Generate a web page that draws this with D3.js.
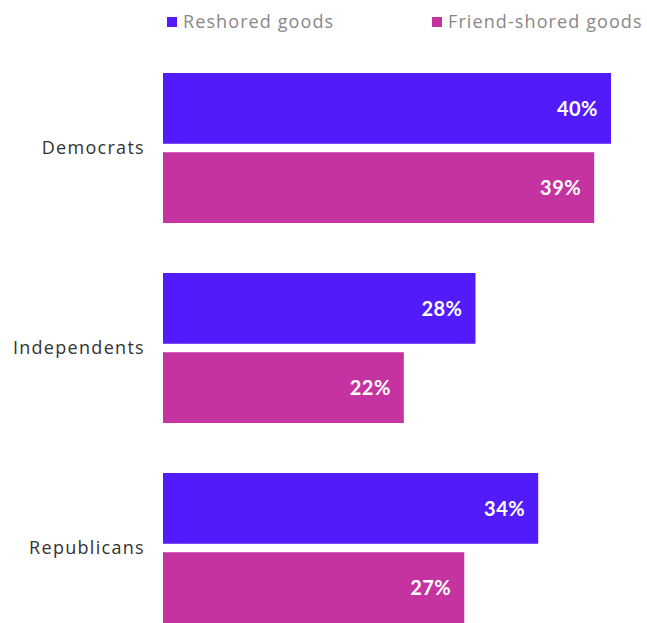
<!DOCTYPE html>
<html>
<head>
<meta charset="utf-8">
<script src="https://cdn.jsdelivr.net/npm/d3@7"></script>
<style>
  body { margin: 0; background: #fff; }
  svg { display: block; }
</style>
</head>
<body>
<svg id="svgRoot" width="647" height="623"></svg>
<script>
// data
const parties = ["Democrats", "Independents", "Republicans"]
const seriesNames = ["Reshored goods", "Friend-shored goods"]
const reshored = [40.0, 27.9, 33.5]
const friendShored = [38.5, 21.5, 26.9]
const seriesColors = ["#511bfb", "#c4339f"]

const font = "'Open Sans', Lato, sans-serif"
const boldFont = "Lato, 'Open Sans', sans-serif"

let svg = d3.select("#svgRoot")
const width = 647
const height = 623

const margin = { top: 73, left: 163, right: 36, bottom: 0 }

let rows = parties.map((p, i) => ({
  party: p,
  values: [
    { key: seriesNames[0], value: reshored[i] },
    { key: seriesNames[1], value: friendShored[i] },
  ],
}))

let scale_y = d3.scaleBand()
  .domain(parties)
  .range([margin.top, height - margin.bottom])
  .paddingInner(0.25)
  .paddingOuter(0)

let scale_inner = d3.scaleBand()
  .domain(seriesNames)
  .range([0, scale_y.bandwidth()])
  .paddingInner(0.107)

let scale_x = d3.scaleLinear()
  .domain([0, 40])
  .range([margin.left, width - margin.right])

let color = d3.scaleOrdinal().domain(seriesNames).range(seriesColors)

// category labels
let g_yAxis = svg.append("g").attr("class", "g_yAxis")
g_yAxis.selectAll("text")
  .data(parties)
  .enter()
  .append("text")
  .attr("x", margin.left - 18)
  .attr("y", (d) => scale_y(d) + scale_y.bandwidth() / 2)
  .attr("dy", "0.36em")
  .attr("text-anchor", "end")
  .attr("font-family", font)
  .attr("font-size", "18px")
  .attr("letter-spacing", "1.3px")
  .attr("fill", "#333")
  .text((d) => d)

// bars
let groups = svg.append("g").attr("class", "g_bars")
  .selectAll(".group")
  .data(rows)
  .enter()
  .append("g")
  .attr("class", "group")
  .attr("transform", (d) => "translate(0," + scale_y(d.party) + ")")

groups.selectAll("rect")
  .data((d) => d.values)
  .enter()
  .append("rect")
  .attr("x", scale_x(0))
  .attr("y", (d) => scale_inner(d.key))
  .attr("width", (d) => scale_x(d.value) - scale_x(0))
  .attr("height", scale_inner.bandwidth())
  .attr("fill", (d) => color(d.key))

groups.selectAll(".valueLabel")
  .data((d) => d.values)
  .enter()
  .append("text")
  .attr("class", "valueLabel")
  .attr("x", (d) => scale_x(d.value) - 13)
  .attr("y", (d) => scale_inner(d.key) + scale_inner.bandwidth() / 2)
  .attr("dy", "0.36em")
  .attr("text-anchor", "end")
  .attr("font-family", boldFont)
  .attr("font-weight", "bold")
  .attr("font-size", "20px")
  .attr("letter-spacing", "0.5px")
  .attr("fill", "#fff")
  .text((d) => Math.round(d.value) + "%")

// legend
const legendX = [167, 432]
let legend = svg.append("g").attr("class", "g_legend")
  .selectAll(".item")
  .data(seriesNames)
  .enter()
  .append("g")
  .attr("class", "item")
  .attr("transform", (d, i) => "translate(" + legendX[i] + ",17)")

legend.append("rect")
  .attr("width", 10)
  .attr("height", 10)
  .attr("fill", (d) => color(d))

legend.append("text")
  .attr("x", 16)
  .attr("y", 5)
  .attr("dy", "0.36em")
  .attr("font-family", font)
  .attr("font-size", "18px")
  .attr("letter-spacing", "1.1px")
  .attr("fill", "#888")
  .text((d) => d)
</script>
</body>
</html>
